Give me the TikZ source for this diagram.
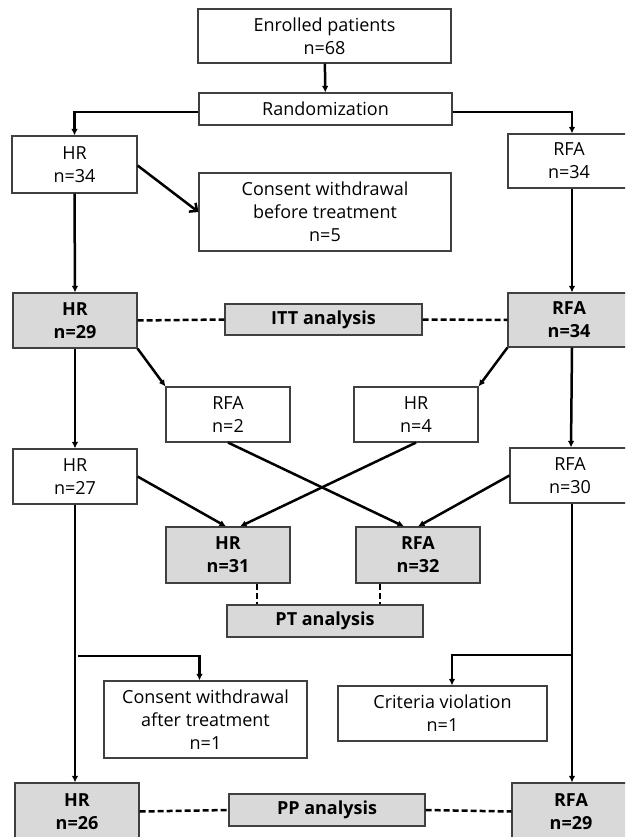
\documentclass[tikz,border=0pt]{standalone}
\usepackage{fontspec}
\setmainfont{Open Sans}
\usetikzlibrary{arrows.meta,calc}
\begin{document}
\begin{tikzpicture}[x=1pt,y=-1pt,
  box/.style={draw=black!75,line width=1.1pt,fill=white,align=center,inner sep=0pt,font=\fontsize{18}{23}\selectfont},
  gbox/.style={box,fill=gray!30,font=\fontsize{18}{23}\selectfont\bfseries},
  conn/.style={line width=2.5pt,-{Latex[length=6.5pt,width=6.5pt]}},
  openconn/.style={line width=2.5pt,-{Straight Barb[length=6pt,width=11pt,line width=2.5pt]}},
  dline/.style={line width=2.5pt,dash pattern=on 6pt off 3pt}
]
\useasboundingbox (0,0) rectangle (625,837);
\clip (0,0) rectangle (625,837);
\fill[white] (0,0) rectangle (625,837);

% nodes
\node[box,minimum width=253,minimum height=54] (enr) at (324.5,36) {Enrolled patients\\n=68};
\node[box,minimum width=253,minimum height=32] (rand) at (325.5,109) {Randomization};
\node[box,minimum width=125,minimum height=57] (hr1) at (74.5,164.5) {HR\\n=34};
\node[box,minimum width=122,minimum height=54] (rfa1) at (569,161) {RFA\\n=34};
\node[box,minimum width=252,minimum height=78] (cons1) at (325,212) {Consent withdrawal\\before treatment\\n=5};
\node[gbox,minimum width=124,minimum height=55] (hr2) at (75,320.5) {HR\\n=29};
\node[gbox,minimum width=197,minimum height=31] (itt) at (323.5,319.5) {ITT analysis};
\node[gbox,minimum width=122,minimum height=54] (rfa2) at (569,320) {RFA\\n=34};
\node[box,minimum width=124,minimum height=55] (rfa3) at (228,414.5) {RFA\\n=2};
\node[box,minimum width=124,minimum height=55] (hr3) at (416,414.5) {HR\\n=4};
\node[box,minimum width=124,minimum height=55] (hr4) at (75,476.5) {HR\\n=27};
\node[box,minimum width=120,minimum height=55] (rfa4) at (570,475.5) {RFA\\n=30};
\node[gbox,minimum width=124,minimum height=56] (hr5) at (228,555) {HR\\n=31};
\node[gbox,minimum width=124,minimum height=56] (rfa5) at (418,555) {RFA\\n=32};
\node[gbox,minimum width=196,minimum height=32] (pt) at (325,621) {PT analysis};
\node[box,minimum width=203,minimum height=77] (cons2) at (205.5,719.5) {Consent withdrawal\\after treatment\\n=1};
\node[box,minimum width=209,minimum height=55] (crit) at (442.5,713.5) {Criteria violation\\n=1};
\node[gbox,minimum width=124,minimum height=57] (hr6) at (77,811.5) {HR\\n=26};
\node[gbox,minimum width=196,minimum height=32] (pp) at (327,810) {PP analysis};
\node[gbox,minimum width=118,minimum height=57] (rfa6) at (571,811.5) {RFA\\n=29};

\coordinate (bl) at (75,656);
\coordinate (br) at (572,655);

% connectors
\draw[conn] (enr) -- (rand);
\draw[conn] ([yshift=-3pt]rand.west) -| (hr1.north);
\draw[conn] ([yshift=-3pt]rand.east) -| ([xshift=3pt]rfa1.north);
\draw[openconn] ([yshift=-1pt]hr1.east) -- (cons1.west);
\draw[conn] (hr1.south) -- (hr2.north);
\draw[conn] ([xshift=3pt]rfa1.south) -- ([xshift=3pt]rfa2.north);
\draw[dline] (hr2.east) -- (itt.west);
\draw[dline] (itt.east) -- (rfa2.west);
\draw[conn] (hr2.south east) -- (rfa3.north west);
\draw[conn] (rfa2.south west) -- (hr3.north east);
\draw[conn] (hr2.south) -- (hr4.north);
\draw[conn] ([xshift=3pt]rfa2.south) -- ([xshift=1pt]rfa4.north);
\draw[conn] (hr4.east) -- ([xshift=-2pt]hr5.north);
\draw[conn] (hr3.south) -- ([xshift=12pt]hr5.north);
\draw[conn] (rfa3.south) -- ([xshift=-14pt]rfa5.north);
\draw[conn] (rfa4.west) -- (rfa5.north);
\draw[dline] ([xshift=29pt]hr5.south) -- ([xshift=29pt]hr5.south |- pt.north);
\draw[dline] ([xshift=-38pt]rfa5.south) -- ([xshift=-38pt]rfa5.south |- pt.north);
\draw[conn] (hr4.south) -- (hr4.south |- hr6.north);
\draw[conn] ([xshift=2pt]rfa4.south) -- ([xshift=2pt]rfa4.south |- rfa6.north);
\draw[conn] ([xshift=3pt]bl) -| ([xshift=-6pt]cons2.north);
\draw[conn] (br) -| ([xshift=9.5pt]crit.north);
\draw[dline] (hr6.east) -- (pp.west);
\draw[dline] (pp.east) -- (rfa6.west);
\end{tikzpicture}
\end{document}
